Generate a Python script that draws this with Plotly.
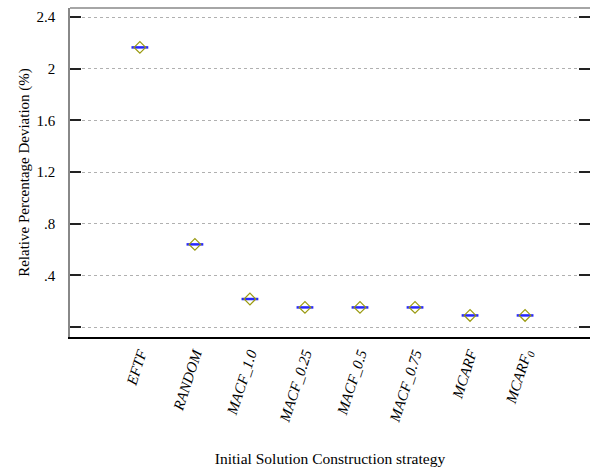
import plotly.graph_objects as go

categories = ["EFTF", "RANDOM", "MACF_1.0", "MACF_0.25", "MACF_0.5", "MACF_0.75", "MCARF", "MCARF<sub>0</sub>"]
values = [2.165, 0.640, 0.217, 0.152, 0.152, 0.152, 0.090, 0.090]
ytick_vals = [0, 0.4, 0.8, 1.2, 1.6, 2.0, 2.4]
ytick_text = ["", ".4", ".8", "1.2", "1.6", "2", "2.4"]

xpos = list(range(len(categories)))
FONT = "Liberation Serif, Times New Roman, serif"

fig = go.Figure()
fig.add_trace(go.Scatter(
    x=xpos, y=values, mode="markers",
    marker=dict(symbol="line-ew", size=12, line=dict(color="#2828ff", width=2.5)),
    showlegend=False, hoverinfo="skip"))
fig.add_trace(go.Scatter(
    x=xpos, y=values, mode="markers",
    marker=dict(symbol="diamond-open", size=9, color="#9a9a10", line=dict(width=1.2)),
    showlegend=False))

fig.update_layout(
    width=590, height=470,
    margin=dict(l=70, r=0, t=8, b=133, autoexpand=False),
    paper_bgcolor="white", plot_bgcolor="white",
    font=dict(family=FONT, size=15, color="black"),
    xaxis=dict(
        range=[-1.27, 8.18], automargin=False,
        tickmode="array", tickvals=xpos,
        ticktext=["<i>%s</i>" % c for c in categories],
        tickangle=-72, ticks="", showgrid=False, zeroline=False,
        showline=True, linecolor="black", linewidth=2,
        tickfont=dict(family=FONT, size=15),
        title=dict(text="Initial Solution Construction strategy", standoff=30,
                   font=dict(family=FONT, size=15.5)),
    ),
    yaxis=dict(
        range=[-0.077, 2.47], automargin=False,
        tickmode="array", tickvals=ytick_vals, ticktext=ytick_text,
        ticks="inside", ticklen=11, tickwidth=2, tickcolor="#222",
        ticklabelstandoff=10,
        showline=True, linecolor="#888", linewidth=1.5, mirror="ticks",
        showgrid=True, gridcolor="#b0b0b0", griddash="dot", gridwidth=1,
        zeroline=False,
        tickfont=dict(family=FONT, size=15),
        title=dict(text="Relative Percentage Deviation (%)", standoff=3,
                   font=dict(family=FONT, size=15)),
    ),
)
fig.add_shape(type="line", xref="paper", yref="paper", x0=0, x1=1, y0=1, y1=1,
              line=dict(color="#888", width=1.5))

fig.write_html("out.html", config={"displayModeBar": False},
               post_script="document.body.style.margin='0';")
